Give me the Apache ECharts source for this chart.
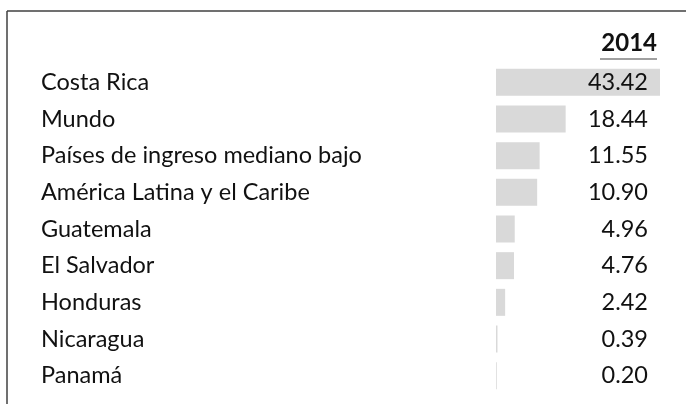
<!DOCTYPE html>
<html>
<head>
<meta charset="utf-8">
<script src="https://cdn.jsdelivr.net/npm/echarts@6/dist/echarts.min.js"></script>
<style>
  html, body { margin: 0; padding: 0; background: #fff; }
  #chart { width: 686px; height: 404px; }
</style>
</head>
<body>
<div id="chart"></div>
<script>
// data
const countries = [
  'Costa Rica',
  'Mundo',
  'Países de ingreso mediano bajo',
  'América Latina y el Caribe',
  'Guatemala',
  'El Salvador',
  'Honduras',
  'Nicaragua',
  'Panamá'
]
const values2014 = [43.42, 18.44, 11.55, 10.90, 4.96, 4.76, 2.42, 0.39, 0.20]
const yearLabel = '2014'

const chart = echarts.init(document.getElementById('chart'))

const font = 'Lato, "Noto Sans", sans-serif'

const option = {
  animation: false,
  backgroundColor: '#fff',
  grid: {
    left: 496,
    right: 26,
    top: 64,
    bottom: 10
  },
  xAxis: {
    type: 'value',
    min: 0,
    max: 43.42,
    show: false
  },
  yAxis: [
    {
      type: 'category',
      data: countries,
      inverse: true,
      axisLine: { show: false },
      axisTick: { show: false },
      axisLabel: {
        align: 'left',
        margin: 455,
        color: '#111',
        fontFamily: font,
        fontSize: 23.5
      }
    },
    {
      type: 'category',
      position: 'right',
      data: values2014.map(v => v.toFixed(2)),
      inverse: true,
      z: 5,
      axisLine: { show: false },
      axisTick: { show: false },
      axisLabel: {
        align: 'right',
        margin: -12,
        color: '#111',
        fontFamily: font,
        fontSize: 23.5
      }
    }
  ],
  series: [
    {
      type: 'bar',
      data: values2014,
      barWidth: 27,
      z: 1,
      itemStyle: { color: '#d9d9d9' },
      silent: true
    }
  ],
  graphic: [
    // frame
    { type: 'line', shape: { x1: 7, y1: 11, x2: 686, y2: 11 }, style: { stroke: '#404040', lineWidth: 1.5 } },
    { type: 'line', shape: { x1: 7, y1: 11, x2: 7, y2: 404 }, style: { stroke: '#404040', lineWidth: 1.5 } },
    // header
    {
      type: 'text',
      right: 29,
      top: 31,
      style: {
        text: yearLabel,
        font: 'bold 24px ' + font,
        fill: '#111'
      }
    },
    { type: 'line', shape: { x1: 600, y1: 59, x2: 657, y2: 59 }, style: { stroke: '#808080', lineWidth: 1.5 } }
  ]
}

chart.setOption(option)
</script>
</body>
</html>
